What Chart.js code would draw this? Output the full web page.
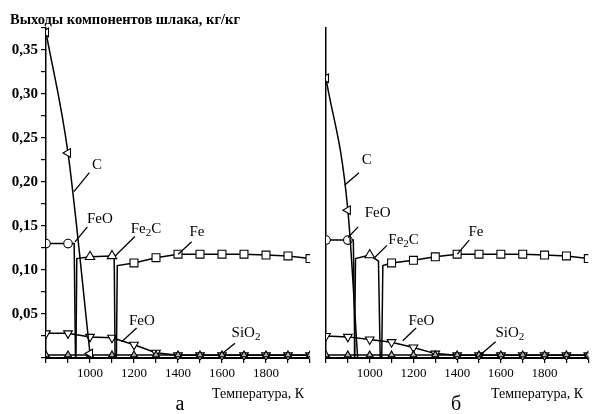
<!DOCTYPE html>
<html><head><meta charset="utf-8">
<script src="https://cdn.jsdelivr.net/npm/chart.js@4.4.1/dist/chart.umd.min.js"></script>
<style>
html,body{margin:0;padding:0;background:#fff;}
#wrap{position:relative;width:595px;height:414px;overflow:hidden;font-family:'Liberation Serif','Times New Roman',serif;color:#000;}
canvas{position:absolute;left:0;top:0;}
.t{position:absolute;white-space:nowrap;line-height:1;}
</style></head><body>
<div id="wrap">
<canvas id="ca" width="595" height="414"></canvas>
<canvas id="cb" width="595" height="414"></canvas>
<div class="t" style="left:10px;top:12px;font-weight:bold;font-size:14.5px;">Выходы компонентов шлака, кг/кг</div>
<div class="t" style="left:212px;top:387px;font-size:14px;">Температура, К</div>
<div class="t" style="left:491px;top:387px;font-size:14px;">Температура, К</div>
<div class="t" style="left:160px;width:40px;text-align:center;top:393px;font-size:20px;">а</div>
<div class="t" style="left:436px;width:40px;text-align:center;top:393px;font-size:20px;">б</div>
</div>
<script>
// ---- data: panel а ----
const TEMPS = [800, 900, 1000, 1100, 1200, 1300, 1400, 1500, 1600, 1700, 1800, 1900, 2000];
const a_C_T = [800, 900, 1000];
const a_C_V = [0.370, 0.233, 0.005];
const a_FeO_T = [800, 900, 928, 934];
const a_FeO_V = [0.130, 0.130, 0.130, 0.000];
const a_Fe2C_T = [936, 940, 1000, 1100, 1110, 1114];
const a_Fe2C_V = [0.000, 0.113, 0.115, 0.116, 0.116, 0.000];
const a_Fe_T = [1120, 1124, 1200, 1300, 1400, 1500, 1600, 1700, 1800, 1900, 2000];
const a_Fe_V = [0.000, 0.105, 0.108, 0.114, 0.118, 0.118, 0.118, 0.118, 0.117, 0.116, 0.113];
const a_FeO2_V = [0.028, 0.028, 0.024, 0.023, 0.015, 0.006, 0.003, 0.003, 0.003, 0.003, 0.003, 0.003, 0.003];
const a_SiO2_V = [0.0035, 0.0035, 0.0035, 0.0035, 0.0035, 0.0035, 0.0035, 0.0035, 0.0035, 0.0035, 0.0035, 0.0035, 0.0035];

// ---- data: panel б ----
const b_C_T = [800, 900, 945];
const b_C_V = [0.318, 0.168, 0.000];
const b_FeO_T = [800, 900, 925, 932];
const b_FeO_V = [0.134, 0.134, 0.134, 0.000];
const b_Fe2C_T = [930, 935, 1000, 1040, 1048];
const b_Fe2C_V = [0.000, 0.113, 0.117, 0.110, 0.000];
const b_Fe_T = [1055, 1060, 1100, 1200, 1300, 1400, 1500, 1600, 1700, 1800, 1900, 2000];
const b_Fe_V = [0.000, 0.105, 0.108, 0.111, 0.115, 0.118, 0.118, 0.118, 0.118, 0.117, 0.116, 0.113];
const b_FeO2_V = [0.025, 0.024, 0.021, 0.018, 0.012, 0.005, 0.003, 0.003, 0.003, 0.003, 0.003, 0.003, 0.003];
const b_SiO2_V = [0.0035, 0.0035, 0.0035, 0.0035, 0.0035, 0.0035, 0.0035, 0.0035, 0.0035, 0.0035, 0.0035, 0.0035, 0.0035];

// ---- tick labels ----
const X_LABELS = [1000, 1200, 1400, 1600, 1800];
const Y_LABELS = [0.05, 0.10, 0.15, 0.20, 0.25, 0.30, 0.35];

// ---- annotations (data coordinates) ----
const LABEL_TEXT = ['C', 'FeO', 'Fe_2C', 'Fe', 'FeO', 'SiO_2'];
const a_labelPos = [[1032, 0.219], [1045, 0.158], [1254, 0.147], [1486, 0.143], [1236, 0.042], [1709, 0.028]];
const a_leaders = [[997, 0.2106, 927, 0.189], [988, 0.149, 932, 0.132], [1204, 0.138, 1114, 0.116], [1462, 0.132, 1401, 0.118], [1212, 0.034, 1144, 0.0185], [1659, 0.0167, 1603, 0.0053]];
const b_labelPos = [[986, 0.225], [1036, 0.165], [1155, 0.134], [1486, 0.143], [1236, 0.042], [1641, 0.028]];
const b_leaders = [[951, 0.2106, 886, 0.1966], [947, 0.149, 901, 0.137], [1079, 0.128, 1018, 0.113], [1455, 0.134, 1401, 0.118], [1212, 0.034, 1151, 0.0197], [1576, 0.0185, 1500, 0.0023]];

const FONT = "'Liberation Serif','Times New Roman',serif";
const pts = (T, V) => T.map((t, i) => ({x: t, y: V[i]}));

function ds(data, style, r, rot, fill, extra) {
  return Object.assign({
    data, borderColor: '#000', borderWidth: 1.5,
    pointStyle: style, rotation: rot || 0,
    pointRadius: c => (c.raw && c.raw.x % 100 === 0) ? r : 0,
    pointBackgroundColor: fill || '#fff', pointBorderColor: '#000', pointBorderWidth: 1.1,
    tension: 0, clip: {left: 0, right: 0, top: 8, bottom: 2}
  }, extra || {});
}

const annotPlugin = {
  id: 'annots',
  afterDatasetsDraw(chart, args, opts) {
    const {ctx} = chart; const x = chart.scales.x, y = chart.scales.y;
    ctx.save();
    ctx.strokeStyle = '#000'; ctx.fillStyle = '#000'; ctx.lineWidth = 1.3;
    opts.texts.forEach((txt, i) => {
      const l = opts.leaders[i];
      ctx.beginPath();
      ctx.moveTo(x.getPixelForValue(l[0]), y.getPixelForValue(l[1]));
      ctx.lineTo(x.getPixelForValue(l[2]), y.getPixelForValue(l[3]));
      ctx.stroke();
      const parts = [];
      txt.split('_').forEach((s, k) => {
        if (k === 0) parts.push({s, sub: false});
        else { parts.push({s: s[0], sub: true}); if (s.length > 1) parts.push({s: s.slice(1), sub: false}); }
      });
      let w = 0;
      parts.forEach(p => { ctx.font = (p.sub ? '11px ' : '15px ') + FONT; p.w = ctx.measureText(p.s).width; w += p.w; });
      let cx = x.getPixelForValue(opts.pos[i][0]) - w / 2;
      const cy = y.getPixelForValue(opts.pos[i][1]);
      ctx.textBaseline = 'middle'; ctx.textAlign = 'left';
      parts.forEach(p => { ctx.font = (p.sub ? '11px ' : '15px ') + FONT; ctx.fillText(p.s, cx, p.sub ? cy + 4 : cy); cx += p.w; });
    });
    ctx.restore();
  }
};

function makeChart(id, sets, padding, yw, showY, labels) {
  return new Chart(document.getElementById(id), {
    type: 'line',
    data: {datasets: sets},
    plugins: [annotPlugin],
    options: {
      responsive: false, animation: false, devicePixelRatio: 1,
      layout: {padding},
      plugins: {legend: {display: false}, tooltip: {enabled: false}, annots: labels},
      scales: {
        x: {
          type: 'linear', min: 800, max: 2000,
          afterFit: s => { s.height = 56; },
          border: {display: true, color: '#000', width: 2},
          grid: {drawOnChartArea: false, drawTicks: true, tickLength: 5, color: '#000', lineWidth: 1.2},
          ticks: {stepSize: 100, autoSkip: false, maxRotation: 0, padding: 3, color: '#000',
            font: {family: FONT, size: 13},
            callback: v => X_LABELS.includes(v) ? String(v) : ''}
        },
        y: {
          type: 'linear', min: 0, max: 0.375,
          afterFit: s => { s.width = yw; },
          border: {display: true, color: '#000', width: 1.5},
          grid: {display: showY, drawOnChartArea: false, drawTicks: true, tickLength: 5, color: '#000', lineWidth: 1.2},
          ticks: {display: showY, stepSize: 0.025, autoSkip: false, padding: 3, color: '#000',
            font: {family: FONT, size: 15, weight: 'bold'},
            callback: v => {
              const m = Y_LABELS.find(t => Math.abs(t - v) < 1e-6);
              return m === undefined ? '' : m.toFixed(2).replace('.', ',');
            }}
        }
      }
    }
  });
}

const setsA = [
  ds(pts(a_C_T, a_C_V), 'triangle', 5, 270, '#fff', {cubicInterpolationMode: 'monotone'}),
  ds(pts(a_FeO_T, a_FeO_V), 'circle', 4.3),
  ds(pts(a_Fe2C_T, a_Fe2C_V), 'triangle', 5.5),
  ds(pts(a_Fe_T, a_Fe_V), 'rect', 5.6),
  ds(pts(TEMPS, a_SiO2_V), 'triangle', 4, 0, '#b0b0b0'),
  ds(pts(TEMPS, a_FeO2_V), 'triangle', 5, 180)
];
const setsB = [
  ds(pts(b_C_T, b_C_V), 'triangle', 5, 270, '#fff', {cubicInterpolationMode: 'monotone'}),
  ds(pts(b_FeO_T, b_FeO_V), 'circle', 4.3),
  ds(pts(b_Fe2C_T, b_Fe2C_V), 'triangle', 5.5),
  ds(pts(b_Fe_T, b_Fe_V), 'rect', 5.6),
  ds(pts(TEMPS, b_SiO2_V), 'triangle', 4, 0, '#b0b0b0'),
  ds(pts(TEMPS, b_FeO2_V), 'triangle', 5, 180)
];

makeChart('ca', setsA, {left: 0, right: 285, top: 28, bottom: 0}, 46, true,
  {texts: LABEL_TEXT, pos: a_labelPos, leaders: a_leaders});
makeChart('cb', setsB, {left: 325, right: 5, top: 28, bottom: 0}, 1, false,
  {texts: LABEL_TEXT, pos: b_labelPos, leaders: b_leaders});
</script>
</body></html>
